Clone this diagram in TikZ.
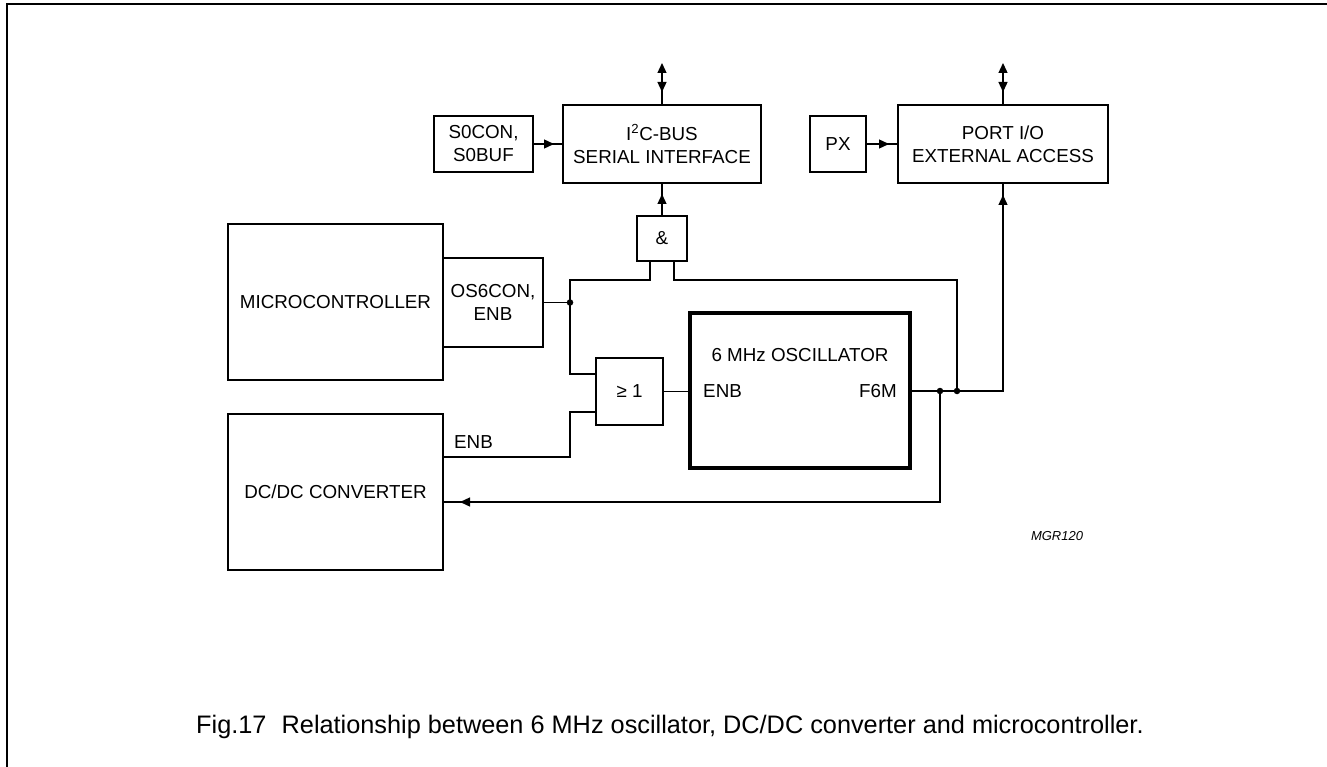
\documentclass[tikz,border=0pt]{standalone}
\usepackage{fontspec}
\setmainfont{Liberation Sans}
\usetikzlibrary{arrows.meta,decorations.markings}
\begin{document}
\begin{tikzpicture}[x=1pt,y=-1pt,
  box/.style={draw, line width=2pt, inner sep=0pt, align=center, font=\fontsize{18.8}{23}\selectfont},
  wire/.style={line width=1.3pt},
  lbl/.style={inner sep=0pt, font=\fontsize{18.8}{23}\selectfont},
  dot/.style={circle, fill, inner sep=0pt, minimum size=6.5pt},
  tipat/.style={postaction={decorate}, decoration={markings, mark=at position #1 with {\arrow{Triangle[length=10pt,width=9pt]}}}},
]
\useasboundingbox (0,0) rectangle (1327,767);
\draw[line width=2pt] (7,767) -- (7,4) -- (1327,4);

% blocks
\node[box, minimum width=99pt, minimum height=56pt] (s0) at (483.5,144) {S0CON,\\S0BUF};
\node[box, minimum width=198pt, minimum height=78pt] (i2c) at (662,144) {I\textsuperscript{2}C-BUS\\SERIAL INTERFACE};
\node[box, minimum width=50pt, minimum height=45pt] (and) at (662,238.5) {\&};
\node[box, minimum width=56pt, minimum height=56pt] (px) at (838,144) {PX};
\node[box, minimum width=210pt, minimum height=78pt] (port) at (1003,144) {PORT I/O\\EXTERNAL ACCESS};
\node[box, minimum width=215pt, minimum height=156pt] (micro) at (335.5,302) {MICROCONTROLLER};
\node[box, minimum width=100pt, minimum height=89pt] (os6) at (493,302.5) {OS6CON,\\ENB};
\node[box, minimum width=67pt, minimum height=67pt] (ge) at (629.5,391.5) {≥ 1};
\node[box, line width=4.5pt, minimum width=220pt, minimum height=155pt] (osc) at (800,390.5) {};
\node[box, minimum width=215pt, minimum height=156pt] (dcdc) at (335.5,492) {DC/DC CONVERTER};

% labels
\node[lbl] (osct) at (800,355) {6 MHz OSCILLATOR};
\node[lbl, anchor=west] (oscenb) at (703,391) {ENB};
\node[lbl, anchor=east] (oscf) at (897,391) {F6M};
\node[lbl, anchor=west] (dcenb) at (454,442) {ENB};
\node[inner sep=0pt, font=\fontsize{13}{15}\selectfont\itshape] (mgr) at (1057,536) {MGR120};
\node[inner sep=0pt, anchor=base west, font=\fontsize{25.3}{30}\selectfont] (cap) at (196,733) {Fig.17\hspace{0.6em}Relationship between 6 MHz oscillator, DC/DC converter and microcontroller.};

% coordinates
\coordinate (bus1) at (662,63);
\coordinate (bus2) at (1003,63);
\coordinate (j1) at (570,302.5);
\coordinate (j2) at (940,391);
\coordinate (j3) at (957,391);
\coordinate (andl) at (650,261);
\coordinate (andr) at (674,261);
\coordinate (gea) at (596,374);
\coordinate (geb) at (596,412);

% connectors
\draw[wire, tipat=-8pt] (s0.east) -- (i2c.west);
\draw[wire, tipat=-8pt] (px.east) -- (port.west);
\draw[wire, tipat=-10pt] (and.north) -- (i2c.south);
\draw[wire, {Triangle[length=10pt,width=9pt]}-, tipat=-12pt] (bus1) -- (i2c.north);
\draw[wire, {Triangle[length=10pt,width=9pt]}-, tipat=-12pt] (bus2) -- (port.north);
\draw[wire] (os6.east) -- (j1);
\draw[wire] (j1) |- (570,280) -| (andl);
\draw[wire] (j1) |- (gea);
\draw[wire] (dcdc.east |- 0,457) -| (570,412) -- (geb);
\draw[wire] (ge.east) -- (osc.west |- ge.east);
\draw[wire, tipat=-11pt] (osc.east |- j2) -- (1003,391) -- (port.south);
\draw[wire, tipat=-16pt] (j2) |- (dcdc.east |- 0,502);
\draw[wire] (j3) |- (674,280) -- (andr);
\node[dot] at (j1) {};
\node[dot] at (j2) {};
\node[dot] at (j3) {};
\end{tikzpicture}
\end{document}
